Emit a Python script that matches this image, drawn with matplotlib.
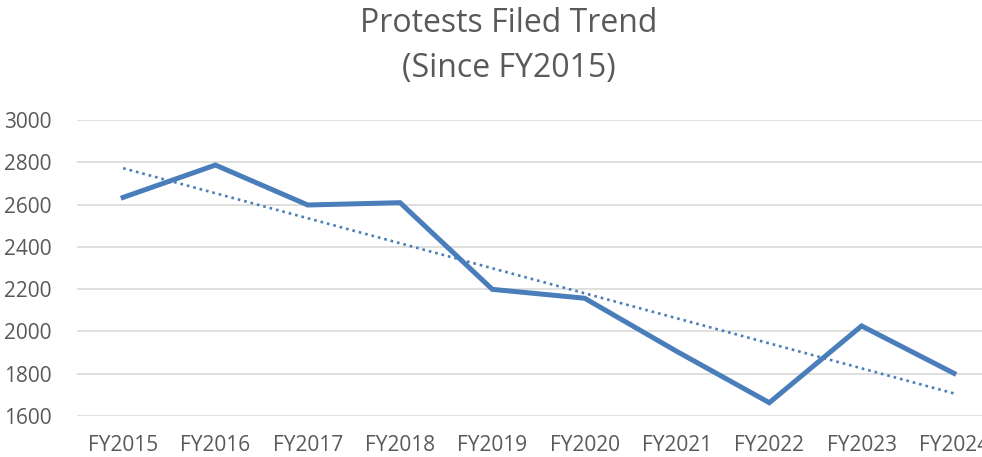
import matplotlib.pyplot as plt

years = ["FY2015", "FY2016", "FY2017", "FY2018", "FY2019",
         "FY2020", "FY2021", "FY2022", "FY2023", "FY2024"]
protests = [2634, 2787, 2598, 2609, 2199, 2157, 1905, 1663, 2026, 1802]
# linear trendline values at the first and last year
trend_years = ["FY2015", "FY2024"]
trend_values = [2772, 1707]
y_ticks = [1600, 1800, 2000, 2200, 2400, 2600, 2800, 3000]


def main():
    plt.rcParams['font.family'] = ['Open Sans', 'DejaVu Sans']
    text_color = '#595959'
    blue = '#4A7EBB'

    fig = plt.figure(figsize=(9.82, 4.57), dpi=100)
    ax = fig.add_axes([0.0784, 0.0897, 0.94, 0.6477])

    x = list(range(len(years)))
    ax.plot(x, protests, color=blue, linewidth=3.6,
            solid_joinstyle='miter', zorder=3)
    tx = [years.index(y) for y in trend_years]
    ax.plot(tx, trend_values, color=blue, linewidth=1.9,
            linestyle=(0, (1, 1.5)), zorder=2)

    ax.set_xlim(-0.5, len(years) - 0.5)
    ax.set_ylim(y_ticks[0], y_ticks[-1])
    ax.set_yticks(y_ticks)
    ax.set_xticks(x)
    ax.set_xticklabels(years)
    ax.yaxis.grid(True, color='#D9D9D9', linewidth=1.2)
    ax.set_axisbelow(True)
    for s in ax.spines.values():
        s.set_visible(False)
    ax.tick_params(axis='both', length=0, colors=text_color, labelsize=15)
    ax.tick_params(axis='y', pad=18)
    ax.tick_params(axis='x', pad=14)

    fig.suptitle("Protests Filed Trend\n(Since FY2015)", y=0.985,
                 fontsize=23, color=text_color, linespacing=1.47,
                 x=0.518)

    fig.savefig('out.png', dpi=100)


if __name__ == '__main__':
    main()
